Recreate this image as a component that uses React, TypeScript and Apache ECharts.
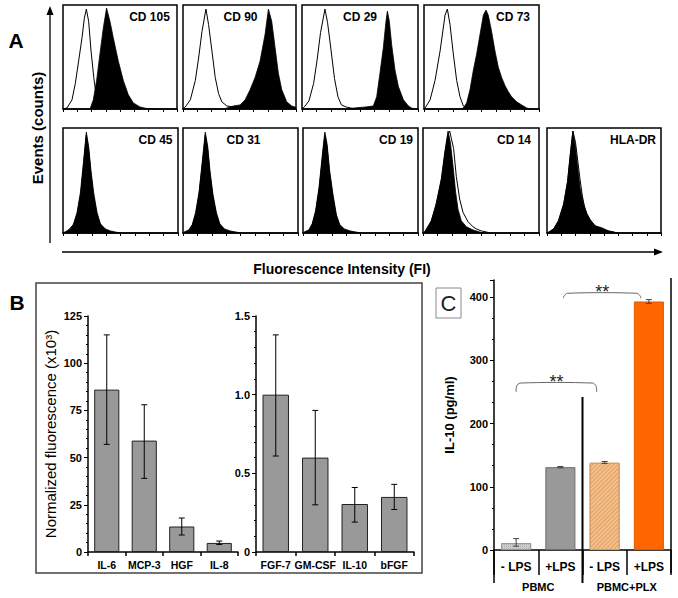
import React, { useEffect, useRef } from 'react';
import * as echarts from 'echarts';

const FONT = 'Arial, "Liberation Sans", Helvetica, sans-serif';

// ---------- Panel A: flow cytometry histograms (x: FI %, y: relative counts) ----------
const panelALabels = ['CD 105', 'CD 90', 'CD 29', 'CD 73', 'CD 45', 'CD 31', 'CD 19', 'CD 14', 'HLA-DR'];

const cd105Iso = [[0, 0], [3.5, 1], [7.9, 9], [10.8, 25], [13.7, 47], [16.7, 70], [18.7, 89], [20.5, 98], [22.5, 86], [24.6, 57], [27, 31], [29.2, 12], [31.3, 4], [32.7, 1], [35, 0]];
const cd105 = [[23.7, 0], [26.6, 9], [29.5, 28], [32.4, 54], [35.3, 79], [38.2, 99], [41.2, 86], [44.1, 70], [48.5, 47], [52.9, 28], [57.3, 14], [61.7, 6], [67.5, 2], [73.3, 0.5], [80, 0]];
const cd90Iso = [[0, 0], [2, 2], [6.5, 9], [10.9, 28], [13.8, 50], [16.8, 76], [20.3, 98], [22.6, 83], [25.6, 57], [28.5, 31], [31.5, 15], [34.4, 7], [38.8, 3], [44.7, 2], [50.6, 1], [56, 0]];
const cd90 = [[36, 0], [38.8, 1], [44.7, 3], [50.6, 4], [55, 9], [59.4, 19], [63.8, 31], [68.2, 47], [72.6, 73], [75.6, 98], [78.5, 86], [81.5, 60], [84.4, 35], [87.4, 19], [91.8, 7], [96.2, 3], [99, 2], [100, 1]];
const cd29Iso = [[0, 0], [2, 2], [6, 8], [10, 25], [13, 48], [16, 75], [19.8, 98], [22, 85], [25, 58], [28, 30], [31, 12], [34, 4], [38, 2], [42, 1], [46, 0]];
const cd29 = [[40, 0], [45, 1], [55, 2], [61.5, 3], [64.4, 12], [67.2, 35], [70.1, 60], [72.4, 86], [73.6, 96], [75.3, 86], [77.3, 63], [80.2, 38], [83.1, 22], [87.4, 9], [91.7, 3], [94.5, 1], [97, 0]];
const cd73Iso = [[0, 0], [1, 1], [5.3, 9], [9.6, 28], [14, 57], [18.3, 92], [20.3, 98], [22.6, 83], [25.5, 54], [28.4, 28], [31.3, 12], [34.2, 3], [37.1, 0]];
const cd73 = [[32, 0], [34.2, 1], [37.1, 6], [40, 19], [42.9, 38], [45.8, 54], [48.7, 73], [51.6, 92], [53.9, 97], [55.9, 92], [58.8, 76], [61.7, 57], [64.6, 41], [67.5, 31], [70.4, 23], [73.3, 17], [76.2, 12], [80.6, 7], [84.9, 4], [89.3, 1], [92, 0]];
const cd45Iso = [[0, 0], [4, 2], [9, 8], [12.5, 19], [15.5, 38], [18, 68], [20.2, 95], [22.2, 82], [24.2, 58], [26.5, 36], [29.5, 18], [32.5, 8], [37, 3], [42, 1], [46, 0]];
const cd45 = [[0, 0], [2, 1], [6.4, 4], [9.3, 9], [12.2, 20], [15.1, 39], [18, 71], [20.3, 98], [22.3, 84], [24.3, 61], [26.7, 39], [29.6, 20], [32.5, 9], [36.8, 4], [41.2, 2], [45.5, 1], [50, 0]];
const cd31Iso = [[0, 0], [5, 2], [8, 7], [11, 18], [14, 38], [17, 69], [19.4, 95], [21.5, 81], [23.5, 57], [26, 35], [29, 18], [32, 8], [36, 3], [42, 1], [46, 0]];
const cd31 = [[0, 0], [1, 1], [5, 3], [8, 8], [11, 20], [14, 40], [17, 72], [19.4, 98], [21.5, 84], [23.5, 60], [26, 38], [29, 20], [32, 9], [36, 4], [41, 2], [46, 1], [50, 0]];
const cd19Iso = [[0, 0], [5, 2], [8, 8], [11, 20], [14, 42], [17, 75], [19, 95], [21, 83], [23, 59], [26, 35], [29, 16], [32, 7], [36, 3], [42, 1], [46, 0]];
const cd19 = [[0, 0], [1, 1], [5, 3], [8, 9], [11, 22], [14, 45], [17, 78], [19, 98], [21, 86], [23, 62], [26, 38], [29, 18], [32, 8], [36, 4], [41, 2], [46, 1], [50, 0]];
const cd14Iso = [[0, 0], [1.4, 1], [3, 3], [7, 11], [11, 27], [16, 52], [19, 78], [21.5, 96], [23, 99], [24.4, 92], [26.4, 82], [28.7, 55], [31.6, 33], [34.5, 20], [38.8, 11], [43.1, 6], [46, 4], [50.3, 2], [54.6, 1], [58, 0]];
const cd14 = [[0, 0], [1.4, 1], [2.9, 4], [7.2, 12], [11.5, 28], [15.8, 53], [18.7, 78], [21.6, 99], [23.6, 88], [25.9, 65], [28.2, 39], [30.2, 23], [33, 12], [37.4, 6], [43.1, 3], [48.9, 1], [52, 0]];
const hladrIso = [[0, 0], [2, 1], [6, 4], [10, 12], [14.6, 28], [18, 50], [20.4, 76], [22.7, 99], [25, 88], [27, 70], [29, 52], [31, 36], [33, 25], [35, 18], [38, 12], [42, 7], [48, 4], [54, 2], [58, 1], [62, 0]];
const hladr = [[0, 0], [1.5, 1], [5.8, 4], [10.2, 12], [14.6, 28], [18.1, 50], [20.4, 76], [22.7, 99], [24.8, 85], [26.8, 65], [29.2, 43], [32.1, 28], [35, 19], [37.9, 13], [42.3, 7], [48.1, 5], [54, 2], [58.3, 1], [62, 0]];

const panelAIso = [cd105Iso, cd90Iso, cd29Iso, cd73Iso, cd45Iso, cd31Iso, cd19Iso, cd14Iso, hladrIso];
const panelAStain = [cd105, cd90, cd29, cd73, cd45, cd31, cd19, cd14, hladr];

// ---------- Panel B ----------
const bLeftCats = ['IL-6', 'MCP-3', 'HGF', 'IL-8'];
const bLeftMean = [86, 59, 13.5, 4.8];
const bLeftLow = [57, 39, 9, 4];
const bLeftHigh = [115, 78, 18, 5.8];
const bRightCats = ['FGF-7', 'GM-CSF', 'IL-10', 'bFGF'];
const bRightMean = [1.0, 0.6, 0.305, 0.35];
const bRightLow = [0.61, 0.3, 0.19, 0.27];
const bRightHigh = [1.38, 0.9, 0.41, 0.43];

// ---------- Panel C ----------
const cCats = ['- LPS', '+LPS', '- LPS', '+LPS'];
const cGroups = ['PBMC', 'PBMC+PLX'];
const cMean = [11, 131, 138, 393];
const cLow = [6, 130, 137, 390];
const cHigh = [18, 132, 140, 396];
const cSig = ['**', '**'];

// layout
const aBoxes = [
  { left: 63, top: 5, width: 114, height: 104 },
  { left: 183, top: 5, width: 113, height: 104 },
  { left: 302, top: 5, width: 116, height: 104 },
  { left: 424, top: 5, width: 115, height: 104 },
  { left: 63, top: 128, width: 115, height: 105 },
  { left: 183, top: 128, width: 115, height: 105 },
  { left: 303, top: 128, width: 115, height: 105 },
  { left: 423, top: 128, width: 116, height: 105 },
  { left: 547, top: 128, width: 114, height: 105 },
];
const aLabelPos = [
  [149.5, 17], [240.5, 17], [360, 17], [513, 17],
  [155.5, 140], [243.5, 140], [396, 140], [514, 140], [633, 140],
];

function errRender(capHalf: number, color: string) {
  return (params: any, api: any) => {
    const i = api.value(0);
    const lo = api.value(1);
    const hi = api.value(2);
    const a = api.coord([i, lo]);
    const b = api.coord([i, hi]);
    const st = { stroke: color, lineWidth: 1 };
    return {
      type: 'group',
      children: [
        { type: 'line', shape: { x1: a[0], y1: a[1], x2: b[0], y2: b[1] }, style: st },
        { type: 'line', shape: { x1: a[0] - capHalf, y1: a[1], x2: a[0] + capHalf, y2: a[1] }, style: st },
        { type: 'line', shape: { x1: b[0] - capHalf, y1: b[1], x2: b[0] + capHalf, y2: b[1] }, style: st },
      ],
    };
  };
}

function txt(x: number, y: number, text: string, size: number, weight: string, extra: any = {}) {
  const { fill, family, ...rest } = extra;
  return {
    type: 'text',
    x,
    y,
    ...rest,
    style: {
      text,
      fontSize: size,
      fontWeight: weight,
      fontFamily: family || FONT,
      fill: fill || '#000',
      align: 'center',
      verticalAlign: 'middle',
      textAlign: 'center',
      textVerticalAlign: 'middle',
    },
  };
}

export default function App() {
  const ref = useRef<HTMLDivElement>(null);

  useEffect(() => {
    if (!ref.current) return;
    const chart = echarts.init(ref.current, null, { renderer: 'svg' });

    const grids: any[] = aBoxes.map((b) => ({
      ...b,
      show: true,
      borderColor: '#000',
      borderWidth: 1.5,
      backgroundColor: 'transparent',
      outerBoundsMode: 'none',
      containLabel: false,
    }));
    grids.push({ left: 88, top: 316, width: 150, height: 236, outerBoundsMode: 'none', containLabel: false });
    grids.push({ left: 256, top: 316, width: 158, height: 236, outerBoundsMode: 'none', containLabel: false });
    grids.push({ left: 494, top: 280, width: 177, height: 270, outerBoundsMode: 'none', containLabel: false });

    const xAxes: any[] = aBoxes.map((_, i) => ({
      gridIndex: i,
      type: 'value',
      min: 0,
      max: 100,
      interval: 12.5,
      axisLine: { show: true, lineStyle: { color: '#000', width: 1.5 } },
      axisTick: { show: true, length: 3, lineStyle: { color: '#000', width: 1 } },
      axisLabel: { show: false },
      splitLine: { show: false },
    }));
    const yAxes: any[] = aBoxes.map((_, i) => ({
      gridIndex: i,
      type: 'value',
      min: 0,
      max: 102,
      show: false,
      splitLine: { show: false },
    }));

    const catX = (gi: number, data: string[], fontSize: number, margin: number, tickLen: number, width: number) => ({
      gridIndex: gi,
      type: 'category',
      data,
      axisLine: { show: true, lineStyle: { color: '#000', width } },
      axisTick: { show: true, alignWithLabel: false, length: tickLen, lineStyle: { color: '#000', width } },
      axisLabel: { color: '#000', fontWeight: 'bold', fontSize, fontFamily: FONT, margin, interval: 0 },
      splitLine: { show: false },
    });
    xAxes.push(catX(9, bLeftCats, 10.5, 7, 4, 1.5));
    xAxes.push(catX(10, bRightCats, 10.5, 7, 4, 1.5));
    xAxes.push(catX(11, cCats, 12, 11, 25, 1.5));

    const valY = (gi: number, min: number, max: number, interval: number, minorSplit: number, fmt: any, name: string, nameGap: number, nameStyle: any) => ({
      gridIndex: gi,
      type: 'value',
      min,
      max,
      interval,
      name,
      nameLocation: 'middle',
      nameGap,
      nameTextStyle: { color: '#000', fontFamily: FONT, ...nameStyle },
      axisLine: { show: true, lineStyle: { color: '#000', width: 1.5 } },
      axisTick: { show: true, length: 4, lineStyle: { color: '#000', width: 1 } },
      minorTick: { show: true, splitNumber: minorSplit, length: 2, lineStyle: { color: '#000', width: 1 } },
      axisLabel: { color: '#000', fontWeight: 'bold', fontSize: 11, fontFamily: FONT, margin: 6, formatter: fmt },
      splitLine: { show: false },
      minorSplitLine: { show: false },
    });
    yAxes.push(valY(9, 0, 125, 25, 5, (v: number) => String(v), 'Normalized fluorescence (x10³)', 30, { fontSize: 15 }));
    yAxes.push(valY(10, 0, 1.5, 0.5, 5, (v: number) => (v === 0 ? '0' : v.toFixed(1)), '', 0, {}));
    yAxes.push(valY(11, 0, 427, 100, 3, (v: number) => (v % 100 === 0 ? String(v) : ''), 'IL-10 (pg/ml)', 38, { fontSize: 13, fontWeight: 'bold' }));

    const series: any[] = [];
    aBoxes.forEach((_, i) => {
      series.push({
        type: 'line',
        xAxisIndex: i,
        yAxisIndex: i,
        data: panelAIso[i],
        symbol: 'none',
        showSymbol: false,
        silent: true,
        lineStyle: { color: '#000', width: 1 },
        z: 2,
      });
      series.push({
        type: 'line',
        xAxisIndex: i,
        yAxisIndex: i,
        data: panelAStain[i],
        symbol: 'none',
        showSymbol: false,
        silent: true,
        lineStyle: { color: '#000', width: 0.8 },
        areaStyle: { color: '#000', opacity: 1 },
        z: 3,
      });
    });

    const barStyle = { color: '#999999', borderColor: '#222', borderWidth: 1 };
    series.push({ type: 'bar', xAxisIndex: 9, yAxisIndex: 9, data: bLeftMean, barWidth: '67%', itemStyle: barStyle, silent: true });
    series.push({
      type: 'custom', xAxisIndex: 9, yAxisIndex: 9, renderItem: errRender(3, '#000'),
      data: bLeftCats.map((_, i) => [i, bLeftLow[i], bLeftHigh[i]]), encode: { x: 0, y: [1, 2] }, z: 5, silent: true,
    });
    series.push({ type: 'bar', xAxisIndex: 10, yAxisIndex: 10, data: bRightMean, barWidth: '67%', itemStyle: barStyle, silent: true });
    series.push({
      type: 'custom', xAxisIndex: 10, yAxisIndex: 10, renderItem: errRender(3, '#000'),
      data: bRightCats.map((_, i) => [i, bRightLow[i], bRightHigh[i]]), encode: { x: 0, y: [1, 2] }, z: 5, silent: true,
    });

    const cStyles = [
      { color: '#cdcdcd', borderColor: '#9a9a9a', borderWidth: 1, decal: { symbol: 'rect', symbolSize: 1, color: 'rgba(120,120,120,0.35)', dashArrayX: [1, 1], dashArrayY: [1, 1], rotation: 0 } },
      { color: '#999999', borderColor: '#6e6e6e', borderWidth: 1 },
      { color: '#f4c08c', borderColor: '#d89c60', borderWidth: 1, decal: { symbol: 'rect', symbolSize: 1, color: 'rgba(200,120,50,0.45)', dashArrayX: [1, 0], dashArrayY: [1, 2], rotation: -Math.PI / 4 } },
      { color: '#ff6600', borderColor: '#e35a00', borderWidth: 1 },
    ];
    series.push({
      type: 'bar', xAxisIndex: 11, yAxisIndex: 11, barWidth: '68%', silent: true,
      data: cMean.map((v, i) => ({ value: v, itemStyle: cStyles[i] })),
    });
    series.push({
      type: 'custom', xAxisIndex: 11, yAxisIndex: 11, renderItem: errRender(3, '#444'),
      data: cCats.map((_, i) => [i, cLow[i], cHigh[i]]), encode: { x: 0, y: [1, 2] }, z: 5, silent: true,
    });

    chart.setOption({
      animation: false,
      backgroundColor: '#fff',
      textStyle: { fontFamily: FONT },
      grid: grids,
      xAxis: xAxes,
      yAxis: yAxes,
      series,
    });

    // ---- annotations computed from axes ----
    const px = (cat: number, v: number) => chart.convertToPixel({ gridIndex: 11 } as any, [cat, v]) as number[];
    const c = cCats.map((_, i) => px(i, 0)[0]);
    const half = (c[1] - c[0]) / 2;
    const y0 = px(0, 0)[1];
    const bottomLong = y0 + 33;

    const bracket = (x1: number, x2: number, vTop: number, vEnd: number, label: string) => {
      const yt = px(0, vTop)[1];
      const ye = px(0, vEnd)[1];
      return [
        {
          type: 'polyline',
          shape: { points: [[x1, ye], [x1 + 0.5, yt + 3], [x1 + 4, yt], [x2 - 4, yt], [x2 - 0.5, yt + 3], [x2, ye]], smooth: 0.3 },
          style: { stroke: '#666', lineWidth: 1, fill: 'none' },
        },
        txt((x1 + x2) / 2, yt - 1, label, 18, 'normal', { fill: '#222' }),
      ];
    };

    const graphics: any[] = [
      // Panel A decorations
      txt(16, 40, 'A', 21, 'bold'),
      { type: 'line', shape: { x1: 50, y1: 243, x2: 50, y2: 13 }, style: { stroke: '#000', lineWidth: 1.3 } },
      { type: 'polygon', shape: { points: [[50, 6], [46.5, 15], [53.5, 15]] }, style: { fill: '#000' } },
      txt(37, 128, 'Events (counts)', 15, 'bold', { rotation: Math.PI / 2 }),
      { type: 'line', shape: { x1: 62, y1: 252, x2: 655, y2: 252 }, style: { stroke: '#000', lineWidth: 1.3 } },
      { type: 'polygon', shape: { points: [[663, 252], [654, 248.5], [654, 255.5]] }, style: { fill: '#000' } },
      txt(342, 269, 'Fluorescence Intensity (FI)', 14, 'bold'),
      ...panelALabels.map((l, i) => txt(aLabelPos[i][0], aLabelPos[i][1], l, 12, 'bold')),
      // Panel B frame
      { type: 'rect', shape: { x: 36, y: 283, width: 386, height: 290 }, style: { stroke: '#444', lineWidth: 1.5, fill: 'none' } },
      txt(17, 302, 'B', 21, 'bold'),
      // Panel C
      { type: 'rect', shape: { x: 436, y: 288, width: 25, height: 30 }, style: { stroke: '#8a8a8a', lineWidth: 1, fill: '#fff' } },
      txt(448.5, 303.5, 'C', 22, 'normal', { fill: '#222' }),
      { type: 'line', shape: { x1: c[0] - half, y1: y0, x2: c[0] - half, y2: bottomLong }, style: { stroke: '#000', lineWidth: 1.5 } },
      { type: 'line', shape: { x1: (c[1] + c[2]) / 2, y1: px(0, 242)[1], x2: (c[1] + c[2]) / 2, y2: bottomLong }, style: { stroke: '#000', lineWidth: 2 } },
      { type: 'line', shape: { x1: c[3] + half, y1: px(0, 430)[1], x2: c[3] + half, y2: y0 + 23 }, style: { stroke: '#000', lineWidth: 1.5 } },
      txt((c[0] + c[1]) / 2, y0 + 37, cGroups[0], 11, 'bold'),
      txt((c[2] + c[3]) / 2, y0 + 37, cGroups[1], 11, 'bold'),
      ...bracket(c[0], c[2] - 8, 264, 250, cSig[0]),
      ...bracket(c[1] + 3, c[3] - 8, 406, 398, cSig[1]),
    ];

    chart.setOption({ graphic: graphics });

    return () => chart.dispose();
  }, []);

  return (
    <div
      ref={ref}
      style={{ position: 'fixed', left: 0, top: 0, width: 678, height: 598, background: '#fff' }}
    />
  );
}
